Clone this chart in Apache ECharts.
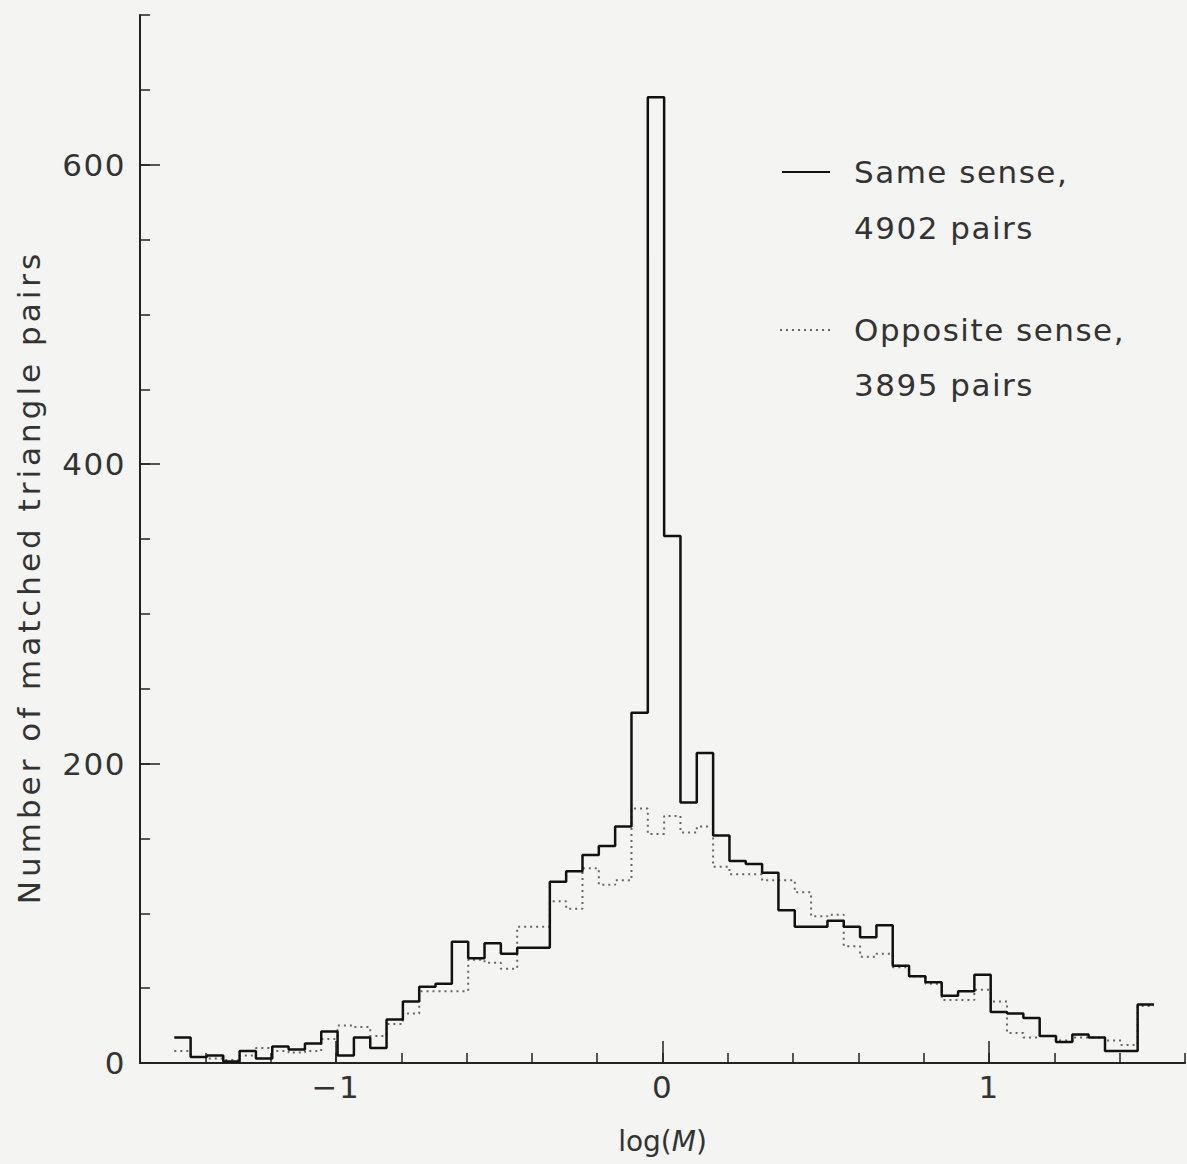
<!DOCTYPE html>
<html>
<head>
<meta charset="utf-8">
<script src="https://cdn.jsdelivr.net/npm/echarts@6/dist/echarts.min.js"></script>
<style>
html, body { margin: 0; padding: 0; background: #f4f4f2; }
#chart { width: 1187px; height: 1164px; }
#chart text { letter-spacing: 1.5px; }
</style>
</head>
<body>
<div id="chart"></div>
<script>
// histogram bins in log(M), 0.05 wide
var binStart = -1.495;
var binWidth = 0.05;

// same sense (solid), counts per bin
var sameSense = [17, 4, 5, 1, 8, 3, 11, 9, 13, 21,
                 5, 17, 10, 29, 41, 51, 53, 81, 70, 80,
                 73, 77, 77, 121, 128, 139, 145, 158, 234, 645,
                 352, 174, 207, 152, 135, 133, 127, 102, 91, 91,
                 95, 91, 84, 92, 65, 58, 54, 45, 48, 59,
                 34, 33, 30, 18, 14, 19, 17, 8, 8, 39];

// opposite sense (dotted), counts per bin
var oppositeSense = [8, 4, 3, 2, 5, 10, 8, 7, 8, 16,
                     25, 24, 18, 26, 33, 48, 48, 48, 69, 67,
                     63, 91, 91, 108, 103, 130, 119, 122, 170, 153,
                     165, 154, 158, 131, 126, 126, 122, 122, 114, 98,
                     99, 78, 71, 73, 64, 58, 53, 42, 42, 49,
                     41, 20, 17, 18, 15, 17, 17, 15, 12, 38];

var xMajorTicks = [-1, 0, 1];
var yLabelValues = [0, 200, 400, 600];
var yMajorTicks = [200, 400, 600];
var legendNames = ['Same sense,', 'Opposite sense,'];
var legendPairs = ['4902 pairs', '3895 pairs'];
var yTitle = 'Number of matched triangle pairs';
var xTitleParts = ['log(', 'M', ')'];

var font = 'DejaVu Sans';
var ink = '#222';
var textInk = '#333';

// bin edges -> points for a step line
function toSteps(counts) {
    var pts = [];
    for (var i = 0; i < counts.length; i++) {
        pts.push([binStart + i * binWidth, counts[i]]);
    }
    pts.push([binStart + counts.length * binWidth, counts[counts.length - 1]]);
    return pts;
}

var chart = echarts.init(document.getElementById('chart'), null, { renderer: 'svg' });
var option = {
    backgroundColor: '#f4f4f2',
    animation: false,
    grid: { left: 140, right: 2, top: 15, bottom: 101, containLabel: false },
    xAxis: [{
        type: 'value', min: -1.6, max: 1.6, interval: 0.2,
        axisLine: { onZero: false, lineStyle: { color: ink, width: 2 } },
        axisTick: { inside: true, length: 10, lineStyle: { color: ink, width: 1.5 } },
        axisLabel: {
            customValues: xMajorTicks, fontSize: 31, fontFamily: font, color: textInk, margin: 8,
            formatter: function (v) { return v < 0 ? '\u2212' + Math.abs(v) : String(v); }
        },
        splitLine: { show: false },
        name: '{a|' + xTitleParts[0] + '}{b|' + xTitleParts[1] + '}{a|' + xTitleParts[2] + '}',
        nameLocation: 'middle',
        nameGap: 64,
        nameTextStyle: {
            rich: {
                a: { fontSize: 28, fontFamily: font, color: textInk },
                b: { fontSize: 28, fontFamily: font, color: textInk, fontStyle: 'italic' }
            }
        }
    }, {
        type: 'value', min: -1.6, max: 1.6, position: 'bottom',
        axisLine: { show: false, onZero: false },
        axisTick: { inside: true, length: 22, customValues: xMajorTicks, lineStyle: { color: ink, width: 1.5 } },
        axisLabel: { show: false },
        splitLine: { show: false }
    }],
    yAxis: [{
        type: 'value', min: 0, max: 700, interval: 50, position: 'left',
        axisLine: { show: true, onZero: false, lineStyle: { color: ink, width: 2 } },
        axisTick: { show: true, inside: true, length: 10, lineStyle: { color: ink, width: 1.5 } },
        axisLabel: { customValues: yLabelValues, fontSize: 31, fontFamily: font, color: textInk, margin: 14 },
        splitLine: { show: false },
        name: yTitle,
        nameLocation: 'middle',
        nameGap: 96,
        nameTextStyle: { fontSize: 31, fontFamily: font, color: textInk, padding: [0, 76, 0, 0] }
    }, {
        type: 'value', min: 0, max: 700, position: 'left',
        axisLine: { show: false, onZero: false },
        axisTick: { show: true, inside: true, length: 20, customValues: yMajorTicks, lineStyle: { color: ink, width: 1.5 } },
        axisLabel: { show: false },
        splitLine: { show: false }
    }],
    series: [{
        name: legendNames[0],
        type: 'line',
        step: 'end',
        data: toSteps(sameSense),
        symbol: 'none',
        lineStyle: { color: '#111', width: 2.5 },
        z: 3
    }, {
        name: legendNames[1],
        type: 'line',
        step: 'end',
        data: toSteps(oppositeSense),
        symbol: 'none',
        lineStyle: { color: '#666', width: 2, type: [2, 4] },
        z: 2
    }],
    graphic: [
        { type: 'line', shape: { x1: 782, y1: 172, x2: 830, y2: 172 }, style: { stroke: '#111', lineWidth: 2 } },
        { type: 'text', style: { text: legendNames[0], x: 854, y: 172, verticalAlign: 'middle', fontSize: 31, fontFamily: font, fill: textInk } },
        { type: 'text', style: { text: legendPairs[0], x: 854, y: 228, verticalAlign: 'middle', fontSize: 31, fontFamily: font, fill: textInk } },
        { type: 'line', shape: { x1: 780, y1: 330, x2: 830, y2: 330 }, style: { stroke: '#666', lineWidth: 2, lineDash: [2, 4] } },
        { type: 'text', style: { text: legendNames[1], x: 854, y: 330, verticalAlign: 'middle', fontSize: 31, fontFamily: font, fill: textInk } },
        { type: 'text', style: { text: legendPairs[1], x: 854, y: 385, verticalAlign: 'middle', fontSize: 31, fontFamily: font, fill: textInk } }
    ]
};

// the y title is set wider; the pieces of log(M) keep normal spacing
chart.on('finished', function () {
    var texts = document.querySelectorAll('#chart text');
    for (var i = 0; i < texts.length; i++) {
        var t = texts[i].textContent;
        if (t === yTitle) {
            texts[i].style.letterSpacing = '4px';
        } else if (xTitleParts.indexOf(t) >= 0) {
            texts[i].style.letterSpacing = '0px';
        }
    }
});
chart.setOption(option);
</script>
</body>
</html>
